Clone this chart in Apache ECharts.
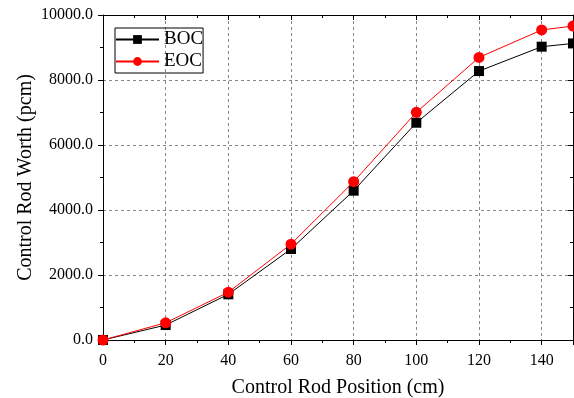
<!DOCTYPE html>
<html><head><meta charset="utf-8">
<script src="https://cdn.jsdelivr.net/npm/echarts@6/dist/echarts.min.js"></script>
<style>html,body{margin:0;padding:0;background:#fff}#c{width:574px;height:398px}</style>
</head><body><div id="c"></div>
<script>
const positions = [0, 20, 40, 60, 80, 100, 120, 140, 150];
const bocWorth = [0, 460, 1405, 2800, 4595, 6685, 8275, 9025, 9125];
const eocWorth = [0, 530, 1470, 2950, 4870, 7005, 8695, 9540, 9660];
const seriesNames = ['BOC', 'EOC'];
const xTitle = 'Control Rod Position (cm)';
const yTitle = 'Control Rod Worth (pcm)';

const FONT = 'Liberation Serif';
const chart = echarts.init(document.getElementById('c'), null, {renderer: 'canvas'});
const gridLine = {show: true, lineStyle: {color: '#888', type: [3, 3], width: 1}};
const axisLine = {show: true, onZero: false, lineStyle: {color: '#000', width: 1}};
chart.setOption({
  animation: false,
  backgroundColor: '#fff',
  grid: {left: 103, right: 1, top: 15, bottom: 58, containLabel: false, outerBoundsMode: 'none'},
  legend: {
    orient: 'vertical', left: 115, top: 28,
    data: seriesNames,
    borderColor: '#000', borderWidth: 1, borderRadius: 0,
    padding: [2, 0, 2, 0], itemGap: 3,
    itemWidth: 43, itemHeight: 11,
    textStyle: {fontFamily: FONT, fontSize: 19, color: '#000', padding: [0, 0, 0, 0]}
  },
  xAxis: [{
    type: 'value', min: 0, max: 150, interval: 20, position: 'bottom',
    name: xTitle, nameLocation: 'middle', nameGap: 38, nameMoveOverlap: false,
    nameTextStyle: {fontFamily: FONT, fontSize: 20, color: '#000'},
    axisLine: axisLine,
    axisTick: {show: true, inside: false, length: 5, lineStyle: {color: '#000'}},
    minorTick: {show: true, splitNumber: 2, length: 3, lineStyle: {color: '#000'}},
    axisLabel: {fontFamily: FONT, fontSize: 16, color: '#000', margin: 13,
      formatter: v => (v === 150 ? '' : String(v))},
    splitLine: gridLine
  }, {
    type: 'value', min: 0, max: 150, interval: 20, position: 'top',
    axisLine: axisLine,
    axisTick: {show: true, inside: true, length: 5, lineStyle: {color: '#000'}},
    minorTick: {show: true, splitNumber: 2, length: 3, lineStyle: {color: '#000'}},
    axisLabel: {show: false}, splitLine: {show: false}
  }],
  yAxis: [{
    type: 'value', min: 0, max: 10000, interval: 2000, position: 'left',
    name: yTitle, nameLocation: 'middle', nameGap: 67, nameRotate: 90, nameMoveOverlap: false,
    nameTextStyle: {fontFamily: FONT, fontSize: 20, color: '#000'},
    axisLine: axisLine,
    axisTick: {show: true, inside: false, length: 5, lineStyle: {color: '#000'}},
    minorTick: {show: true, splitNumber: 2, length: 3, lineStyle: {color: '#000'}},
    axisLabel: {fontFamily: FONT, fontSize: 16, color: '#000', margin: 10,
      formatter: v => v.toFixed(1)},
    splitLine: gridLine
  }, {
    type: 'value', min: 0, max: 10000, interval: 2000, position: 'right',
    axisLine: axisLine,
    axisTick: {show: true, inside: true, length: 5, lineStyle: {color: '#000'}},
    minorTick: {show: true, splitNumber: 2, length: 3, lineStyle: {color: '#000'}},
    axisLabel: {show: false}, splitLine: {show: false}
  }],
  series: [{
    name: seriesNames[0], type: 'line', xAxisIndex: 0, yAxisIndex: 0,
    data: positions.map((p, i) => [p, bocWorth[i]]),
    symbol: 'rect', symbolSize: 10,
    lineStyle: {color: '#000', width: 1}, itemStyle: {color: '#000'}
  }, {
    name: seriesNames[1], type: 'line', xAxisIndex: 0, yAxisIndex: 0,
    data: positions.map((p, i) => [p, eocWorth[i]]),
    symbol: 'circle', symbolSize: 11,
    lineStyle: {color: '#ff0000', width: 1}, itemStyle: {color: '#ff0000'}
  }]
});
</script></body></html>
